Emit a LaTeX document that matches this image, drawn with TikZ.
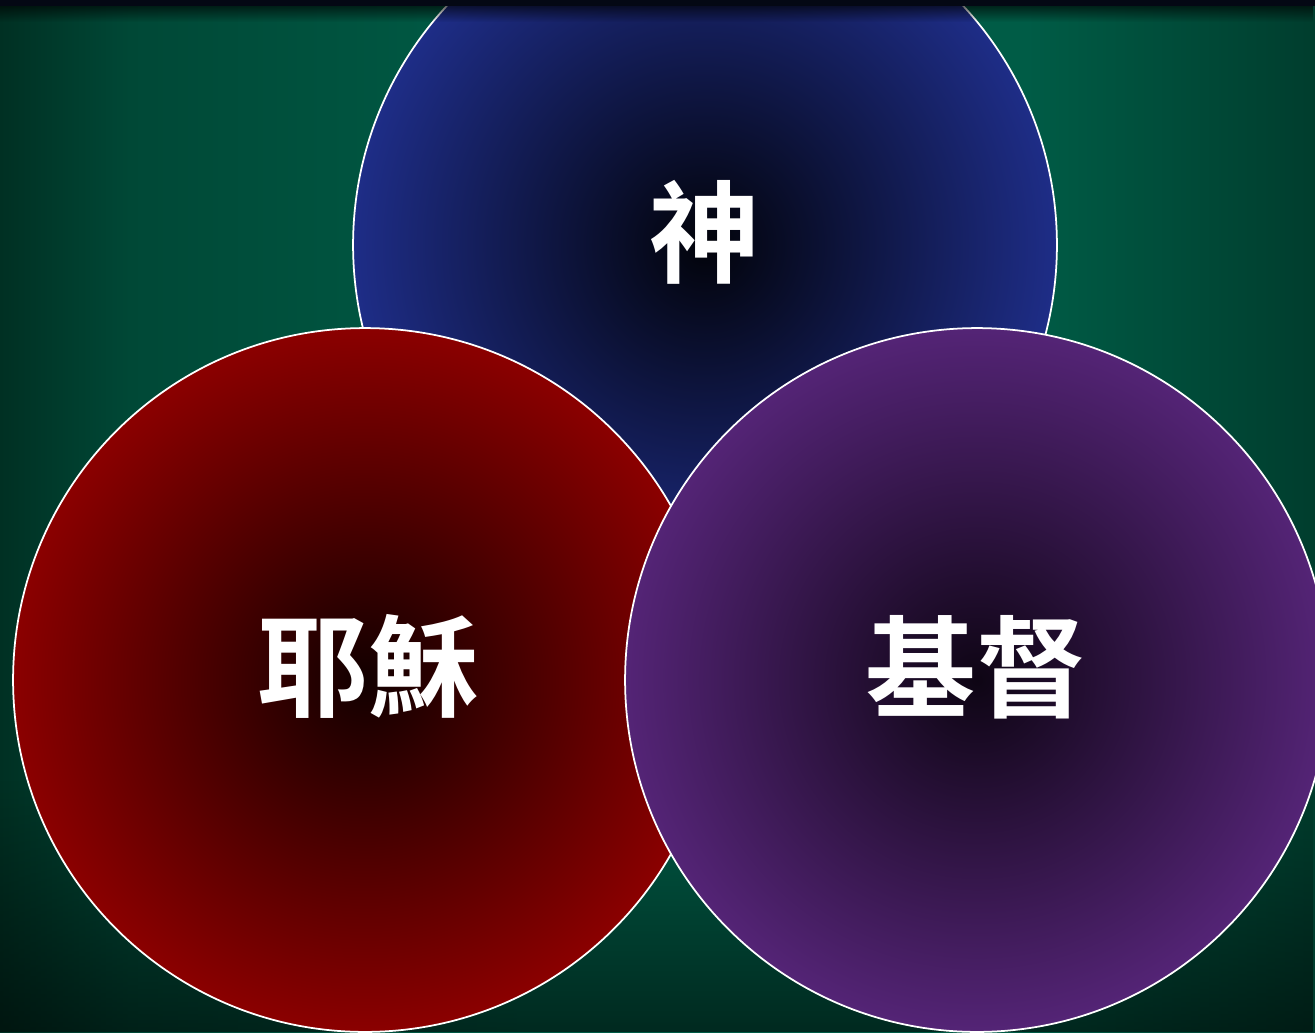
\documentclass[tikz,border=0pt]{standalone}
\usepackage{fontspec}
\usepackage{xcolor}
\usepackage{tikz}
\usetikzlibrary{positioning, fadings}
\newfontfamily\cjk{Noto Sans CJK TC}[UprightFont={* Bold}]
\definecolor{bgEdge}{RGB}{0, 48, 35}
\definecolor{bgMid}{RGB}{0, 92, 70}
\definecolor{topBar}{RGB}{4, 8, 20}
\definecolor{godRim}{RGB}{30, 45, 135}
\definecolor{godCore}{RGB}{2, 3, 10}
\definecolor{jesusRim}{RGB}{139, 0, 0}
\definecolor{jesusCore}{RGB}{18, 0, 0}
\definecolor{christRim}{RGB}{84, 36, 118}
\definecolor{christCore}{RGB}{14, 5, 20}
\pgfdeclarehorizontalshading{backdrop}{100bp}{color(0bp)=(bgEdge); color(25bp)=(bgEdge);
    color(30bp)=(bgEdge!45!bgMid); color(45bp)=(bgMid); color(64bp)=(bgMid);
    color(75bp)=(bgEdge!70!bgMid); color(100bp)=(bgEdge!70!bgMid)}

\begin{document}
\begin{tikzpicture}[
    x=0.02cm, y=-0.02cm,
    orb/.style={circle, minimum size=14.08cm, inner sep=0pt, draw=white, line width=1pt},
    word/.style={font=\cjk\fontsize{63}{63}\selectfont, text=white, inner sep=0pt}
]
\useasboundingbox (0,0) rectangle (1315,1032);
\clip (0,0) rectangle (1315,1032);
% backdrop
\fill[shading=backdrop] (0,0) rectangle (1315,1032);
\fill[black, opacity=0.55, path fading=north] (0,780) rectangle (1315,1032);

\node[orb, inner color=godCore, outer color=godRim] (god) at (705,245) {};
\node[orb, inner color=jesusCore, outer color=jesusRim] (jesus) at (365,680) {};
\node[orb, inner color=christCore, outer color=christRim] (christ) at (977,680) {};

\node[word] (godtext) at (705,232) {神};
\node[word] (jesustext) at (368,666) {耶穌};
\node[word] (christtext) at (976,667) {基督};

% top bar
\fill[topBar] (0,0) rectangle (1315,6);
\fill[black, opacity=0.6, path fading=south] (0,6) rectangle (1315,22);
\end{tikzpicture}
\end{document}
